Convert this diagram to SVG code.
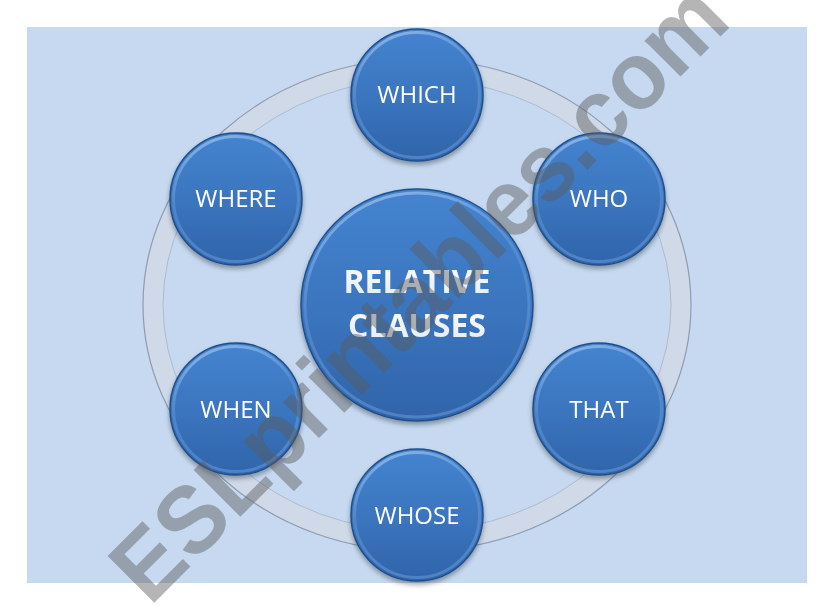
<svg xmlns="http://www.w3.org/2000/svg" width="821" height="616" viewBox="0 0 821 616">
  <defs>
    <linearGradient id="ballFill" x1="0" y1="0" x2="0" y2="1">
      <stop offset="0" stop-color="#4584d0"/>
      <stop offset="0.55" stop-color="#3a74bd"/>
      <stop offset="1" stop-color="#2f64a9"/>
    </linearGradient>
    <linearGradient id="rimLight" x1="0" y1="0" x2="0.3" y2="1">
      <stop offset="0" stop-color="#9cc3f0" stop-opacity="0.9"/>
      <stop offset="0.5" stop-color="#6c9fdc" stop-opacity="0.4"/>
      <stop offset="1" stop-color="#5d8fd0" stop-opacity="0.7"/>
    </linearGradient>
    <linearGradient id="titleFill" x1="0" y1="0" x2="0" y2="1">
      <stop offset="0" stop-color="#ffffff"/>
      <stop offset="1" stop-color="#e4e8ee"/>
    </linearGradient>
    <filter id="shadow" x="-20%" y="-20%" width="140%" height="140%">
      <feGaussianBlur in="SourceAlpha" stdDeviation="2.5"/>
      <feOffset dx="0" dy="3" result="b"/>
      <feComponentTransfer><feFuncA type="linear" slope="0.35"/></feComponentTransfer>
      <feMerge><feMergeNode/><feMergeNode in="SourceGraphic"/></feMerge>
    </filter>
  </defs>
  <style>
    .ball { fill: url(#ballFill); stroke: #1f4f8a; stroke-width: 1.5; }
    .rim { fill: none; stroke: url(#rimLight); stroke-width: 3; }
    .lbl { font-family: "Open Sans", "Liberation Sans", sans-serif; font-size: 24px; fill: #ffffff; text-anchor: middle; }
    .title { font-family: "Open Sans", "Liberation Sans", sans-serif; font-weight: bold; font-size: 32px; fill: url(#titleFill); text-anchor: middle; }
    .wm { font-family: "Liberation Sans", Arial, sans-serif; font-weight: bold; font-size: 96px; fill: #5a5a5a; fill-opacity: 0.45; }
  </style>

  <rect x="0" y="0" width="821" height="616" fill="#ffffff"/>
  <rect x="27" y="27" width="780" height="556" fill="#c6d9f0"/>

  <g id="connectors">
    <ellipse cx="417" cy="305" rx="264" ry="236" fill="none" stroke="#cfd9e8" stroke-width="20"/>
    <ellipse cx="417" cy="305" rx="274" ry="246" fill="none" stroke="#8e9bb1" stroke-width="1.2"/>
    <ellipse cx="417" cy="305" rx="254" ry="226" fill="none" stroke="#aebbd0" stroke-width="1"/>
  </g>

  <g id="center" filter="url(#shadow)">
    <circle class="ball" cx="417" cy="305" r="116"/>
    <circle class="rim" cx="417" cy="305" r="112"/>
    <text class="title" x="417" y="293">RELATIVE</text>
    <text class="title" x="417" y="337">CLAUSES</text>
  </g>

  <g id="which" filter="url(#shadow)">
    <circle class="ball" cx="417" cy="95" r="66"/>
    <circle class="rim" cx="417" cy="95" r="62.5"/>
    <text class="lbl" x="417" y="103">WHICH</text>
  </g>
  <g id="where" filter="url(#shadow)">
    <circle class="ball" cx="236" cy="199" r="66"/>
    <circle class="rim" cx="236" cy="199" r="62.5"/>
    <text class="lbl" x="236" y="207">WHERE</text>
  </g>
  <g id="who" filter="url(#shadow)">
    <circle class="ball" cx="599" cy="199" r="66"/>
    <circle class="rim" cx="599" cy="199" r="62.5"/>
    <text class="lbl" x="599" y="207">WHO</text>
  </g>
  <g id="when" filter="url(#shadow)">
    <circle class="ball" cx="236" cy="409" r="66"/>
    <circle class="rim" cx="236" cy="409" r="62.5"/>
    <text class="lbl" x="236" y="418">WHEN</text>
  </g>
  <g id="that" filter="url(#shadow)">
    <circle class="ball" cx="599" cy="409" r="66"/>
    <circle class="rim" cx="599" cy="409" r="62.5"/>
    <text class="lbl" x="599" y="418">THAT</text>
  </g>
  <g id="whose" filter="url(#shadow)">
    <circle class="ball" cx="417" cy="515" r="66"/>
    <circle class="rim" cx="417" cy="515" r="62.5"/>
    <text class="lbl" x="417" y="524">WHOSE</text>
  </g>

  <text class="wm" transform="translate(150,607) rotate(-45)" x="0" y="0" textLength="825" lengthAdjust="spacingAndGlyphs">ESLprintables.com</text>
</svg>
